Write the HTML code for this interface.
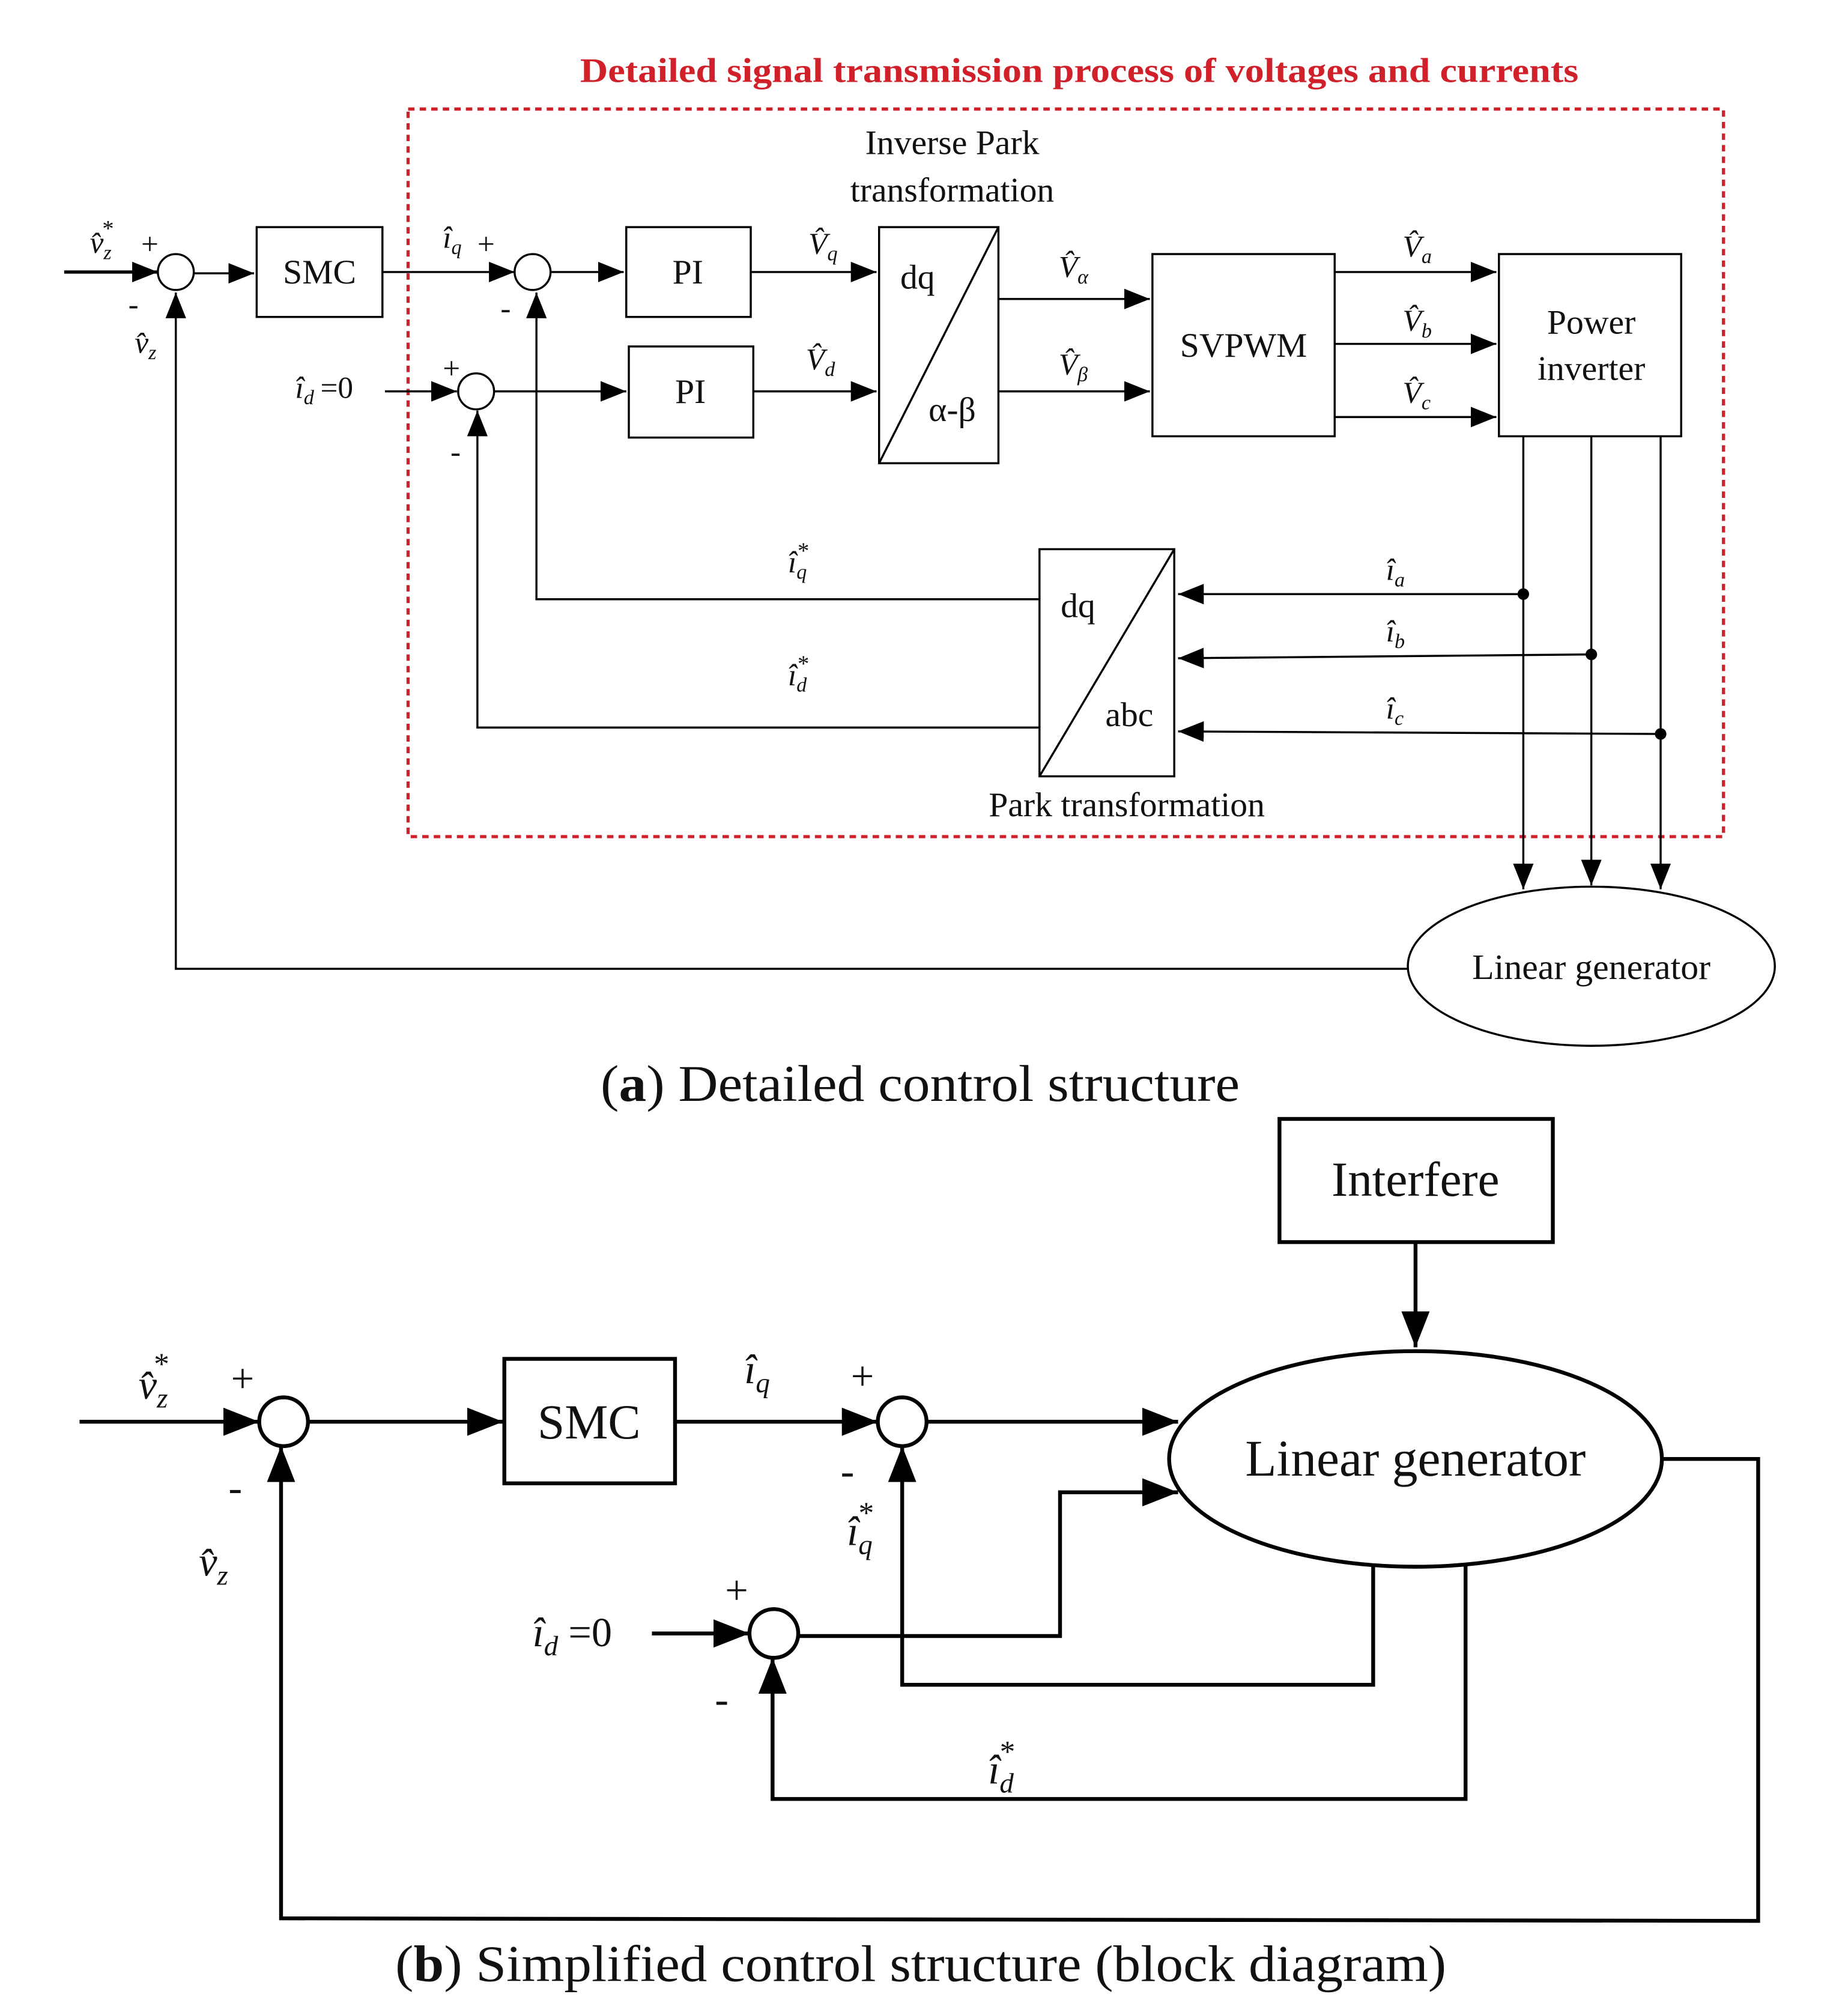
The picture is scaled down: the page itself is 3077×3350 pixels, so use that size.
<!DOCTYPE html>
<html><head><meta charset="utf-8"><style>
html,body{margin:0;padding:0;background:#fff}
svg{display:block}
text{font-family:"Liberation Serif",serif;fill:#111}
.it{font-style:italic}
</style></head><body>
<svg width="3077" height="3350" viewBox="0 0 1440 1568" preserveAspectRatio="none" xmlns="http://www.w3.org/2000/svg">
<defs>
<marker id="a2" markerWidth="20" markerHeight="16" refX="20" refY="8" orient="auto" markerUnits="userSpaceOnUse" viewBox="0 0 20 16"><path d="M0,0 L20,8 L0,16z" fill="#000"/></marker>
<marker id="bb" markerWidth="28" markerHeight="22" refX="28" refY="11" orient="auto" markerUnits="userSpaceOnUse" viewBox="0 0 28 22"><path d="M0,0 L28,11 L0,22z" fill="#000"/></marker>
</defs>

<!-- Part (a) -->
<text x="452" y="64" textLength="778" lengthAdjust="spacingAndGlyphs" font-size="27" font-weight="bold" style="fill:#d0202a">Detailed signal transmission process of voltages and currents</text>
<rect x="318" y="85" width="1025" height="567" fill="none" stroke="#d0202a" stroke-width="2.5" stroke-dasharray="5,4"/>

<g stroke="#000" stroke-width="1.6" fill="none">
<line x1="50" y1="212" x2="123" y2="212" stroke-width="2.5" marker-end="url(#a2)"/>
<circle cx="137" cy="212" r="14" fill="#fff"/>
<line x1="151" y1="213" x2="198" y2="213" marker-end="url(#a2)"/>
<rect x="200" y="177" width="98" height="70"/>
<line x1="298" y1="212" x2="401" y2="212" marker-end="url(#a2)"/>
<circle cx="415" cy="212" r="14" fill="#fff"/>
<line x1="429" y1="212" x2="486" y2="212" marker-end="url(#a2)"/>
<rect x="488" y="177" width="97" height="70"/>
<line x1="585" y1="212" x2="683" y2="212" marker-end="url(#a2)"/>
<rect x="685" y="177" width="93" height="184"/>
<line x1="685" y1="361" x2="778" y2="177"/>
<line x1="778" y1="233" x2="896" y2="233" marker-end="url(#a2)"/>
<line x1="778" y1="305" x2="896" y2="305" marker-end="url(#a2)"/>
<rect x="898" y="198" width="142" height="142"/>
<line x1="1040" y1="212" x2="1166" y2="212" marker-end="url(#a2)"/>
<line x1="1040" y1="268" x2="1166" y2="268" marker-end="url(#a2)"/>
<line x1="1040" y1="325" x2="1166" y2="325" marker-end="url(#a2)"/>
<rect x="1168" y="198" width="142" height="142"/>
<line x1="1187" y1="340" x2="1187" y2="693" marker-end="url(#a2)"/>
<line x1="1240" y1="340" x2="1240" y2="690" marker-end="url(#a2)"/>
<line x1="1294" y1="340" x2="1294" y2="693" marker-end="url(#a2)"/>
<ellipse cx="1240" cy="753" rx="143" ry="62"/>
<polyline points="1097,755 137,755 137,228" marker-end="url(#a2)"/>
<line x1="300" y1="305" x2="356" y2="305" marker-end="url(#a2)"/>
<circle cx="371" cy="305" r="14" fill="#fff"/>
<line x1="385" y1="305" x2="488" y2="305" marker-end="url(#a2)"/>
<rect x="490" y="270" width="97" height="71"/>
<line x1="587" y1="305" x2="683" y2="305" marker-end="url(#a2)"/>
<rect x="810" y="428" width="105" height="177"/>
<line x1="810" y1="605" x2="915" y2="428"/>
<line x1="1187" y1="463" x2="918" y2="463" marker-end="url(#a2)"/>
<line x1="1240" y1="510" x2="918" y2="513" marker-end="url(#a2)"/>
<line x1="1294" y1="572" x2="918" y2="570" marker-end="url(#a2)"/>
<polyline points="810,467 418,467 418,228" marker-end="url(#a2)"/>
<polyline points="810,567 372,567 372,320" marker-end="url(#a2)"/>
</g>
<circle cx="1187" cy="463" r="4.5"/><circle cx="1240" cy="510" r="4.5"/><circle cx="1294" cy="572" r="4.5"/>

<g font-size="27">
<text x="249" y="221" text-anchor="middle">SMC</text>
<text x="536" y="221" text-anchor="middle">PI</text>
<text x="538" y="314" text-anchor="middle">PI</text>
<text x="715" y="225" text-anchor="middle">dq</text>
<text x="742" y="328" text-anchor="middle">α-β</text>
<text x="969" y="278" text-anchor="middle">SVPWM</text>
<text x="1240" y="260" text-anchor="middle">Power</text>
<text x="1240" y="296" text-anchor="middle">inverter</text>
<text x="840" y="481" text-anchor="middle">dq</text>
<text x="880" y="566" text-anchor="middle">abc</text>
<text x="742" y="120" text-anchor="middle">Inverse Park</text>
<text x="742" y="157" text-anchor="middle">transformation</text>
<text x="878" y="636" text-anchor="middle">Park transformation</text>
<text x="1240" y="763" text-anchor="middle" font-size="28">Linear generator</text>
</g>
<g font-size="24" class="it">
<text x="70" y="197" class="it">v̂<tspan font-size="16" dy="5">z</tspan><tspan font-size="18" dx="-8" dy="-18">*</tspan></text>
<text x="110" y="198" style="font-style:normal">+</text>
<text x="100" y="245" style="font-style:normal">-</text>
<text x="105" y="275" class="it">v̂<tspan font-size="16" dy="5">z</tspan></text>
<text x="345" y="193" class="it">î<tspan font-size="16" dy="5">q</tspan></text>
<text x="372" y="198" style="font-style:normal">+</text>
<text x="390" y="248" style="font-style:normal">-</text>
<text x="230" y="310" class="it">î<tspan font-size="16" dy="5">d</tspan><tspan dy="-5" dx="5" style="font-style:normal">=0</tspan></text>
<text x="345" y="295" style="font-style:normal">+</text>
<text x="351" y="360" style="font-style:normal">-</text>
<text x="630" y="198" class="it">V̂<tspan font-size="16" dy="5">q</tspan></text>
<text x="628" y="288" class="it">V̂<tspan font-size="16" dy="5">d</tspan></text>
<text x="825" y="216" class="it">V̂<tspan font-size="16" dy="5">α</tspan></text>
<text x="825" y="292" class="it">V̂<tspan font-size="16" dy="5">β</tspan></text>
<text x="1093" y="200" class="it">V̂<tspan font-size="16" dy="5">a</tspan></text>
<text x="1093" y="258" class="it">V̂<tspan font-size="16" dy="5">b</tspan></text>
<text x="1093" y="314" class="it">V̂<tspan font-size="16" dy="5">c</tspan></text>
<text x="1080" y="452" class="it">î<tspan font-size="16" dy="5">a</tspan></text>
<text x="1080" y="500" class="it">î<tspan font-size="16" dy="5">b</tspan></text>
<text x="1080" y="560" class="it">î<tspan font-size="16" dy="5">c</tspan></text>
<text x="614" y="446" class="it">î<tspan font-size="16" dy="5">q</tspan><tspan font-size="18" dx="-8" dy="-16">*</tspan></text>
<text x="614" y="534" class="it">î<tspan font-size="16" dy="5">d</tspan><tspan font-size="18" dx="-8" dy="-16">*</tspan></text>
</g>
<text x="468" y="858" textLength="498" lengthAdjust="spacingAndGlyphs" font-size="40">(<tspan font-weight="bold">a</tspan>) Detailed control structure</text>

<!-- Part (b) -->
<g stroke="#000" stroke-width="3" fill="none">
<rect x="997" y="872" width="213" height="96"/>
<line x1="1103" y1="968" x2="1103" y2="1050" marker-end="url(#bb)"/>
<ellipse cx="1103" cy="1137" rx="192" ry="84"/>
<line x1="62" y1="1108" x2="202" y2="1108" marker-end="url(#bb)"/>
<circle cx="221" cy="1108" r="19" fill="#fff"/>
<line x1="240" y1="1108" x2="392" y2="1108" marker-end="url(#bb)"/>
<rect x="393" y="1059" width="133" height="97"/>
<line x1="526" y1="1108" x2="684" y2="1108" marker-end="url(#bb)"/>
<circle cx="703" cy="1108" r="19" fill="#fff"/>
<line x1="722" y1="1108" x2="918" y2="1108" marker-end="url(#bb)"/>
<line x1="508" y1="1273" x2="584" y2="1273" marker-end="url(#bb)"/>
<circle cx="603" cy="1273" r="19" fill="#fff"/>
<polyline points="622,1275 826,1275 826,1163 918,1163" marker-end="url(#bb)"/>
<polyline points="1070,1220 1070,1313 703,1313 703,1127" marker-end="url(#bb)"/>
<polyline points="1142,1220 1142,1402 602,1402 602,1292" marker-end="url(#bb)"/>
<polyline points="1295,1137 1370,1137 1370,1497 219,1495 219,1127" marker-end="url(#bb)"/>
</g>
<g font-size="38">
<text x="1103" y="932" text-anchor="middle">Interfere</text>
<text x="1103" y="1150" text-anchor="middle" font-size="40">Linear generator</text>
<text x="459" y="1121" text-anchor="middle">SMC</text>
</g>
<g font-size="32">
<text x="108" y="1090" class="it">v̂<tspan font-size="22" dy="7">z</tspan><tspan font-size="24" dx="-12" dy="-26">*</tspan></text>
<text x="180" y="1085">+</text>
<text x="178" y="1170">-</text>
<text x="155" y="1228" class="it">v̂<tspan font-size="22" dy="7">z</tspan></text>
<text x="580" y="1078" class="it">î<tspan font-size="22" dy="7">q</tspan></text>
<text x="663" y="1083">+</text>
<text x="655" y="1157">-</text>
<text x="660" y="1204" class="it">î<tspan font-size="22" dy="7">q</tspan><tspan font-size="24" dx="-12" dy="-24">*</tspan></text>
<text x="415" y="1283" class="it">î<tspan font-size="22" dy="7">d</tspan><tspan dy="-7" dx="8" style="font-style:normal">=0</tspan></text>
<text x="565" y="1250">+</text>
<text x="557" y="1335">-</text>
<text x="770" y="1390" class="it">î<tspan font-size="22" dy="7">d</tspan><tspan font-size="24" dx="-12" dy="-24">*</tspan></text>
</g>
<text x="308" y="1544" textLength="819" lengthAdjust="spacingAndGlyphs" font-size="40">(<tspan font-weight="bold">b</tspan>) Simplified control structure (block diagram)</text>
</svg>
</body></html>
